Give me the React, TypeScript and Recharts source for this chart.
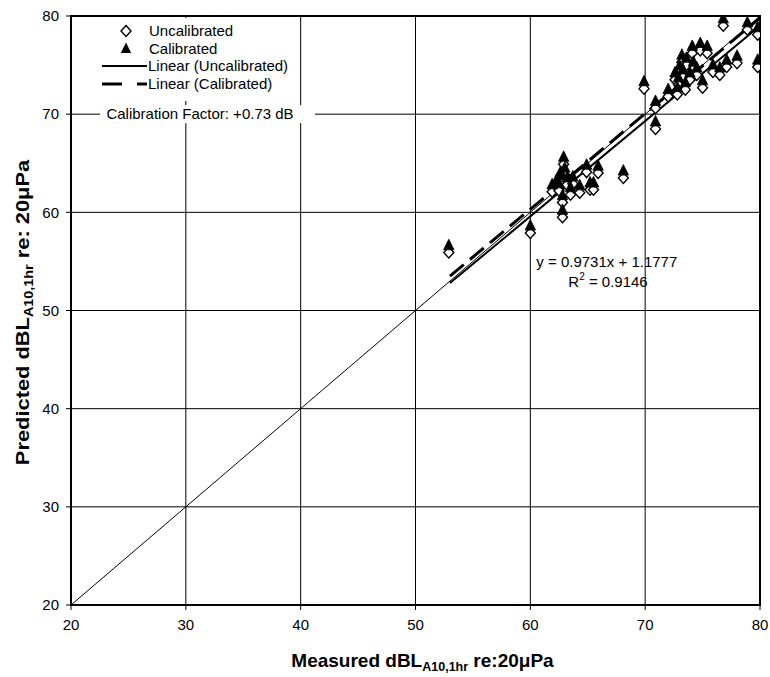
import React from 'react';
import {
  ScatterChart,
  Scatter,
  XAxis,
  YAxis,
  CartesianGrid,
  ReferenceLine,
  ReferenceArea,
  ReferenceDot,
} from 'recharts';

// ---- data ----
const axisTicks = [20, 30, 40, 50, 60, 70, 80];

const measured = [
  52.9, 60.0, 62.8, 62.8, 61.9, 62.3, 62.5, 62.6, 62.8, 62.9, 63.0, 63.2, 63.5, 63.7, 64.3, 64.9,
  65.2, 65.5, 65.9, 68.1, 69.9, 70.9, 70.9, 72.0, 72.6, 72.8, 72.9, 73.0, 73.2, 73.3, 73.5, 73.6,
  73.9, 74.1, 74.2, 74.5, 74.8, 75.0, 75.4, 75.9, 76.5, 76.8, 77.1, 78.0, 78.9, 79.8, 79.8,
];

const predictedUncalibrated = [
  55.9, 57.9, 59.5, 61.0, 62.1, 62.6, 62.2, 63.3, 63.0, 64.9, 63.8, 62.8, 61.8, 62.9, 62.0, 64.1,
  62.3, 62.3, 64.0, 63.5, 72.6, 68.5, 70.6, 71.8, 73.5, 72.0, 73.0, 74.2, 75.3, 73.8, 72.5, 75.0,
  73.5, 76.2, 74.6, 74.0, 76.5, 72.7, 76.2, 74.3, 74.0, 79.0, 74.8, 75.2, 78.6, 78.1, 74.8,
];

const predictedCalibrated = [
  56.6, 58.6, 60.2, 61.7, 62.8, 63.3, 62.9, 64.0, 63.7, 65.6, 64.5, 63.5, 62.5, 63.6, 62.7, 64.8,
  63.0, 63.0, 64.7, 64.2, 73.3, 69.2, 71.3, 72.5, 74.2, 72.7, 73.7, 74.9, 76.0, 74.5, 73.2, 75.7,
  74.2, 76.9, 75.3, 74.7, 77.2, 73.4, 76.9, 75.0, 74.7, 79.7, 75.5, 75.9, 79.3, 78.8, 75.5,
];

// trend line end points (x, y)
const fitUncalibrated = [
  { x: 53, y: 52.8 },
  { x: 80, y: 79.0 },
];
const fitCalibrated = [
  { x: 53, y: 53.5 },
  { x: 80, y: 79.8 },
];
const identityLine = [
  { x: 20, y: 20 },
  { x: 80, y: 80 },
];

const equationText = 'y = 0.9731x + 1.1777';
const r2Value = '0.9146';
const calibrationText = 'Calibration Factor: +0.73 dB';
const legendLabels = ['Uncalibrated', 'Calibrated', 'Linear (Uncalibrated)', 'Linear (Calibrated)'];

const uncalData = measured.map((x, i) => ({ x, y: predictedUncalibrated[i] }));
const calData = measured.map((x, i) => ({ x, y: predictedCalibrated[i] }));

const FONT = '"Liberation Sans", Arial, sans-serif';

const diamondPath = (cx: number, cy: number) =>
  `M${cx},${cy - 5.5} L${cx + 5},${cy} L${cx},${cy + 5.5} L${cx - 5},${cy} Z`;
const trianglePath = (cx: number, cy: number) =>
  `M${cx},${cy - 6.5} L${cx + 5.2},${cy + 4} L${cx - 5.2},${cy + 4} Z`;

const Diamond = (props: any) => {
  const { cx, cy } = props;
  if (cx == null || cy == null) return null;
  return <path d={diamondPath(cx, cy)} fill="#fff" stroke="#000" strokeWidth={1.4} />;
};

const Triangle = (props: any) => {
  const { cx, cy } = props;
  if (cx == null || cy == null) return null;
  return <path d={trianglePath(cx, cy)} fill="#000" stroke="#000" strokeWidth={0.8} />;
};

const LegendBox = (props: any) => {
  const { cx, cy } = props;
  const x0 = cx;
  const y0 = cy;
  const tx = x0 + 78;
  return (
    <g fontFamily={FONT} fontSize={15} fill="#000">
      <rect x={x0 + 20} y={y0 + 2} width={206} height={83} fill="#fff" />
      <path d={diamondPath(x0 + 55, y0 + 15)} fill="#fff" stroke="#000" strokeWidth={1.4} />
      <text x={tx} y={y0 + 20}>{legendLabels[0]}</text>
      <path d={trianglePath(x0 + 55, y0 + 33)} fill="#000" />
      <text x={tx} y={y0 + 38}>{legendLabels[1]}</text>
      <line x1={x0 + 31} x2={x0 + 76} y1={y0 + 50} y2={y0 + 50} stroke="#000" strokeWidth={2} />
      <text x={tx - 1} y={y0 + 55}>{legendLabels[2]}</text>
      <line
        x1={x0 + 31}
        x2={x0 + 76}
        y1={y0 + 68}
        y2={y0 + 68}
        stroke="#000"
        strokeWidth={3}
        strokeDasharray="20 15"
      />
      <text x={tx - 1} y={y0 + 73}>{legendLabels[3]}</text>
    </g>
  );
};

const CalibrationBox = (props: any) => {
  const { cx, cy } = props;
  return (
    <g fontFamily={FONT} fontSize={15} fill="#000">
      <rect x={cx + 29} y={cy - 9} width={215} height={18} fill="#fff" />
      <text x={cx + 129} y={cy + 5} textAnchor="middle">
        {calibrationText}
      </text>
    </g>
  );
};

const EquationBox = (props: any) => {
  const { cx, cy } = props;
  return (
    <g fontFamily={FONT} fontSize={15} fill="#000">
      <text x={cx + 6} y={cy - 44}>{equationText}</text>
      <text x={cx + 38} y={cy - 24}>
        <tspan>R</tspan>
        <tspan fontSize={10} dy={-7}>2</tspan>
        <tspan dy={7}>{` = ${r2Value}`}</tspan>
      </text>
    </g>
  );
};

const XTitle = (props: any) => {
  const vb = props.viewBox || {};
  const cx = vb.x + vb.width / 2 + 7;
  const y = vb.y + 62;
  return (
    <text x={cx} y={y} textAnchor="middle" fontFamily={FONT} fontWeight="bold" fontSize={19} fill="#000">
      <tspan>Measured dBL</tspan>
      <tspan fontSize={12.5} dy={4}>A10,1hr</tspan>
      <tspan dy={-4}> re:20μPa</tspan>
    </text>
  );
};

const YTitle = (props: any) => {
  const vb = props.viewBox || {};
  const x = vb.x + 29;
  const cy = vb.y + vb.height / 2 + 2;
  return (
    <g transform={`translate(${x}, ${cy}) rotate(-90) scale(1.15, 1)`}>
      <text x={0} y={0} textAnchor="middle" fontFamily={FONT} fontWeight="bold" fontSize={19} fill="#000">
        <tspan>Predicted dBL</tspan>
        <tspan fontSize={12.5} dy={4}>A10,1hr</tspan>
        <tspan dy={-4}> re: 20μPa</tspan>
      </text>
    </g>
  );
};

export default function App() {
  return (
    <div style={{ position: 'absolute', left: 0, top: 0, width: 770, height: 677, background: '#fff' }}>
      <ScatterChart
        width={770}
        height={677}
        margin={{ top: 16, right: 10, bottom: 0, left: 0 }}
        style={{ fontFamily: FONT }}
      >
        <CartesianGrid stroke="#000" strokeWidth={1} />
        <XAxis
          type="number"
          dataKey="x"
          domain={[20, 80]}
          ticks={axisTicks}
          allowDataOverflow
          height={72}
          tickSize={5}
          tickMargin={9}
          axisLine={{ stroke: '#000', strokeWidth: 2 }}
          tickLine={{ stroke: '#000' }}
          tick={{ fill: '#000', fontSize: 15, fontFamily: FONT }}
          label={{ content: XTitle }}
        />
        <YAxis
          type="number"
          dataKey="y"
          domain={[20, 80]}
          ticks={axisTicks}
          allowDataOverflow
          width={71}
          tickSize={5}
          tickMargin={7}
          axisLine={{ stroke: '#000', strokeWidth: 2 }}
          tickLine={{ stroke: '#000' }}
          tick={{ fill: '#000', fontSize: 15, fontFamily: FONT }}
          label={{ content: YTitle }}
        />
        <ReferenceArea x1={20} x2={80} y1={20} y2={80} fill="none" stroke="#000" strokeWidth={2} ifOverflow="visible" />
        <ReferenceLine segment={identityLine} stroke="#000" strokeWidth={1} ifOverflow="visible" />
        <Scatter name="Uncalibrated" data={uncalData} shape={Diamond} isAnimationActive={false} />
        <Scatter name="Calibrated" data={calData} shape={Triangle} isAnimationActive={false} />
        <ReferenceLine segment={fitUncalibrated} stroke="#000" strokeWidth={2} ifOverflow="visible" />
        <ReferenceLine
          segment={fitCalibrated}
          stroke="#000"
          strokeWidth={3}
          strokeDasharray="18 8"
          ifOverflow="visible"
        />
        <ReferenceDot x={20} y={80} r={0} shape={LegendBox} ifOverflow="visible" />
        <ReferenceDot x={20} y={70} r={0} shape={CalibrationBox} ifOverflow="visible" />
        <ReferenceDot x={60} y={50} r={0} shape={EquationBox} ifOverflow="visible" />
      </ScatterChart>
    </div>
  );
}
